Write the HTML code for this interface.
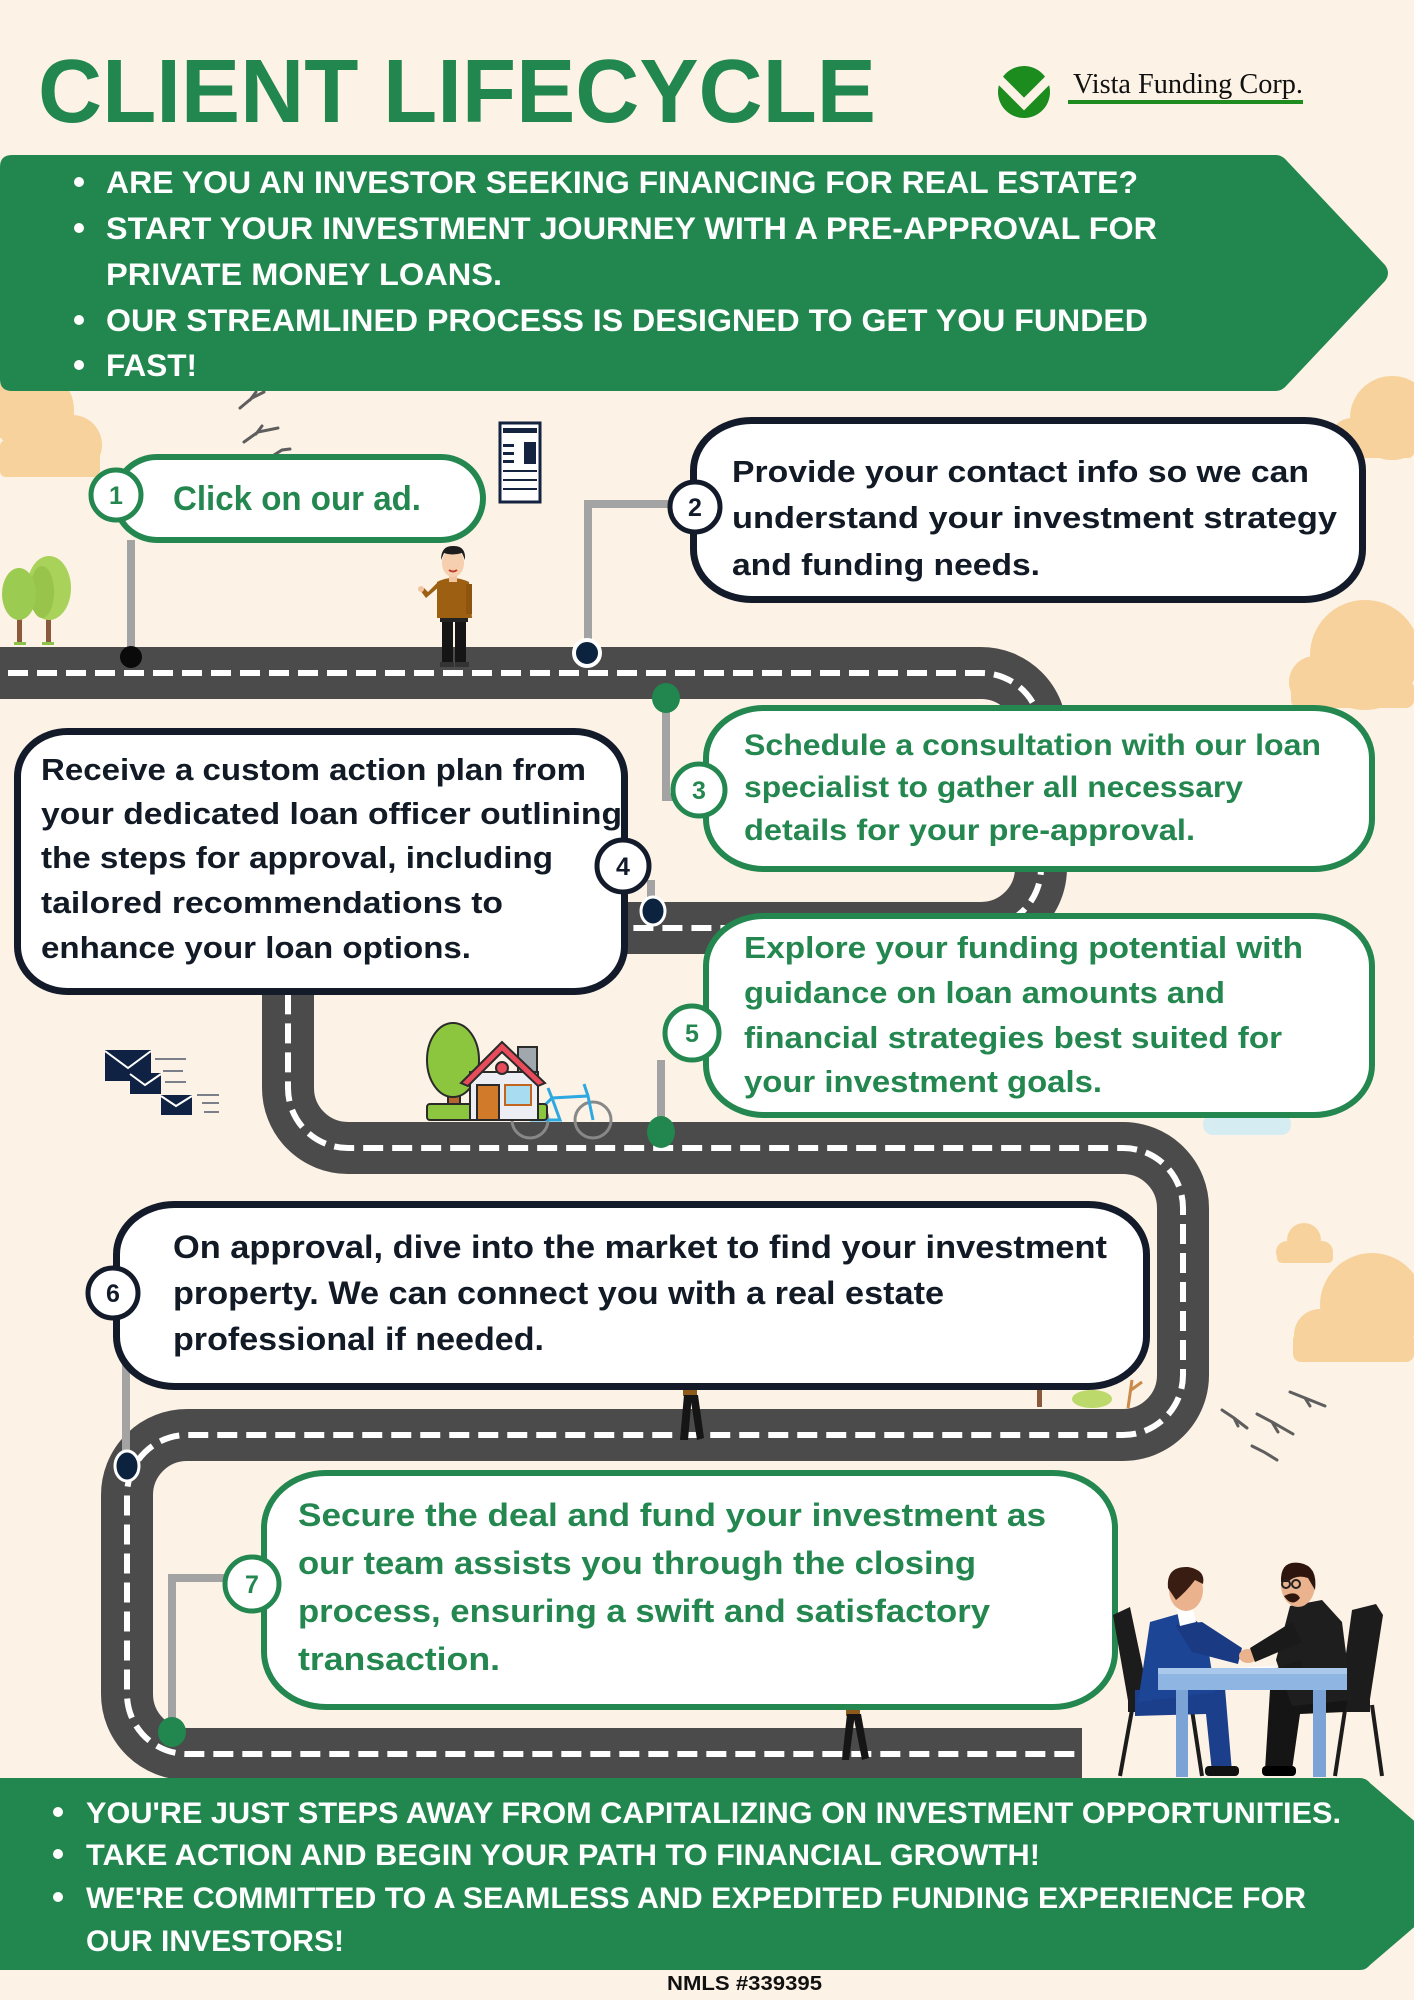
<!DOCTYPE html>
<html><head><meta charset="utf-8">
<style>
html,body{margin:0;padding:0;background:#fcf2e5;}
svg{display:block;}
text{font-family:"Liberation Sans",Arial,sans-serif;font-weight:bold;}
.serif{font-family:"Liberation Serif","Times New Roman",serif;font-weight:normal;}
</style></head><body>
<svg width="1414" height="2000" viewBox="0 0 1414 2000" xmlns="http://www.w3.org/2000/svg">
<rect width="1414" height="2000" fill="#fcf2e5"/>

<!-- clouds -->
<g fill="#f8d29c">
  <circle cx="32" cy="410" r="42"/><circle cx="72" cy="445" r="30"/><rect x="0" y="440" width="100" height="37" rx="6"/>
  <circle cx="1392" cy="418" r="42"/><circle cx="1352" cy="440" r="22"/><rect x="1335" y="436" width="79" height="22" rx="6"/>
  <circle cx="1365" cy="655" r="55"/><circle cx="1315" cy="682" r="26"/><rect x="1291" y="680" width="123" height="28" rx="8"/>
  <circle cx="1304" cy="1240" r="17"/><circle cx="1287" cy="1252" r="11"/><circle cx="1322" cy="1252" r="11"/><rect x="1277" y="1250" width="56" height="13" rx="5"/>
  <circle cx="1372" cy="1305" r="52"/><circle cx="1320" cy="1335" r="26"/><rect x="1293" y="1332" width="121" height="30" rx="8"/>
</g>
<rect x="1203" y="1114" width="88" height="21" rx="10" fill="#d6ecf3"/>

<!-- title -->
<text x="38" y="122" font-size="90" fill="#21874f" textLength="838" lengthAdjust="spacingAndGlyphs">CLIENT LIFECYCLE</text>

<!-- logo -->
<circle cx="1024" cy="92" r="26" fill="#1b8c1d"/>
<polyline points="996,76 1024,104 1052,76" fill="none" stroke="#fcf2e5" stroke-width="9"/>
<text class="serif" x="1073" y="93" font-size="28" fill="#111" textLength="230" lengthAdjust="spacingAndGlyphs">Vista Funding Corp.</text>
<rect x="1068" y="100" width="235" height="4" fill="#1e8c1e"/>

<!-- top banner -->
<path d="M12 155 H1276 Q1282 155 1287 161 L1385 265 Q1391 273 1385 281 L1287 385 Q1282 391 1276 391 H12 Q0 391 0 379 V167 Q0 155 12 155 Z" fill="#21874f"/>
<g fill="#fff">
  <circle cx="79" cy="182" r="5"/><circle cx="79" cy="228" r="5"/><circle cx="79" cy="320" r="5"/><circle cx="79" cy="365" r="5"/>
</g>
<g fill="#fff" font-size="31.5">
  <text x="106" y="193" textLength="1032" lengthAdjust="spacingAndGlyphs">ARE YOU AN INVESTOR SEEKING FINANCING FOR REAL ESTATE?</text>
  <text x="106" y="239" textLength="1051" lengthAdjust="spacingAndGlyphs">START YOUR INVESTMENT JOURNEY WITH A PRE-APPROVAL FOR</text>
  <text x="106" y="285" textLength="396" lengthAdjust="spacingAndGlyphs">PRIVATE MONEY LOANS.</text>
  <text x="106" y="331" textLength="1042" lengthAdjust="spacingAndGlyphs">OUR STREAMLINED PROCESS IS DESIGNED TO GET YOU FUNDED</text>
  <text x="106" y="376" textLength="91" lengthAdjust="spacingAndGlyphs">FAST!</text>
</g>

<!-- birds -->
<g fill="none" stroke="#5e5e5e" stroke-width="3" stroke-linecap="round">
  <path d="M240 408 L252 398 L264 392 M250 400 L256 392"/>
  <path d="M244 442 L258 432 L278 428 M256 434 L262 426"/>
  <path d="M274 455 L282 450 L290 449"/>
  <path d="M1222 1410 L1234 1418 L1247 1428 M1234 1418 L1238 1426"/>
  <path d="M1257 1414 L1272 1422 L1293 1434 M1272 1422 L1278 1432"/>
  <path d="M1290 1392 L1305 1398 L1325 1406 M1305 1398 L1310 1406"/>
  <path d="M1252 1446 L1264 1452 L1277 1460"/>
</g>

<!-- trees left -->
<rect x="17" y="612" width="5" height="32" fill="#8b5a3c"/>
<rect x="46" y="606" width="5" height="38" fill="#8b5a3c"/>
<ellipse cx="49" cy="588" rx="22" ry="32" fill="#a9d25a"/>
<ellipse cx="42" cy="592" rx="12" ry="26" fill="#98c44c"/>
<ellipse cx="19" cy="594" rx="17" ry="26" fill="#9ccb52"/>
<rect x="14" y="642" width="12" height="3" fill="#8bc34a"/><rect x="42" y="642" width="12" height="3" fill="#8bc34a"/>

<!-- newspaper -->
<rect x="500" y="423" width="40" height="79" fill="#fff" stroke="#142340" stroke-width="3"/>
<g fill="#142340">
  <rect x="503" y="428" width="34" height="5"/>
  <rect x="503" y="444" width="11" height="3"/><rect x="503" y="452" width="11" height="3"/><rect x="503" y="460" width="11" height="3"/>
  <rect x="524" y="442" width="12" height="22"/>
  <rect x="503" y="470" width="34" height="2"/><rect x="503" y="479" width="34" height="2"/><rect x="503" y="488" width="34" height="2"/>
</g>

<!-- road -->
<path d="M0 673 H981 A60 60 0 0 1 1041 733 V868 A60 60 0 0 1 981 928 H348 A60 60 0 0 0 288 988 V1088 A60 60 0 0 0 348 1148 H1123 A60 60 0 0 1 1183 1208 V1375 A60 60 0 0 1 1123 1435 H187 A60 60 0 0 0 127 1495 V1694 A60 60 0 0 0 187 1754 H1082" fill="none" stroke="#4b4b4b" stroke-width="52"/>
<path d="M0 673 H981 A60 60 0 0 1 1041 733 V868 A60 60 0 0 1 981 928 H348 A60 60 0 0 0 288 988 V1088 A60 60 0 0 0 348 1148 H1123 A60 60 0 0 1 1183 1208 V1375 A60 60 0 0 1 1123 1435 H187 A60 60 0 0 0 127 1495 V1694 A60 60 0 0 0 187 1754 H1082" fill="none" stroke="#fff" stroke-width="6" stroke-dasharray="20 9" stroke-dashoffset="-8"/>

<!-- man standing -->
<g>
  <rect x="442" y="618" width="11" height="46" fill="#151515"/>
  <rect x="455" y="618" width="11" height="46" fill="#151515"/>
  <rect x="440" y="662" width="14" height="5" fill="#333"/><rect x="455" y="662" width="14" height="5" fill="#333"/>
  <rect x="440" y="616" width="28" height="6" fill="#222"/>
  <path d="M437 582 Q452 574 469 582 L472 618 L437 618 Z" fill="#9d5f12"/>
  <path d="M440 586 L426 598 L420 590 L424 588 L428 592 L438 582 Z" fill="#9d5f12"/>
  <circle cx="421" cy="589" r="3" fill="#f2c4a0"/>
  <rect x="466" y="584" width="6" height="30" fill="#8d5410"/>
  <rect x="449" y="574" width="8" height="8" fill="#f2c4a0"/>
  <ellipse cx="453" cy="563" rx="11" ry="14" fill="#f5cfae"/>
  <path d="M441 560 Q441 545 454 546 Q466 546 465 560 L462 553 Q452 556 444 553 Z" fill="#1d1d1d"/>
  <path d="M449 570 Q453 573 457 570" stroke="#c0392b" stroke-width="2" fill="none"/>
</g>

<!-- envelopes -->
<g>
  <rect x="105" y="1050" width="46" height="31" fill="#0f2244"/>
  <polyline points="105,1051 128,1068 151,1051" fill="none" stroke="#fff" stroke-width="2"/>
  <rect x="130" y="1073" width="31" height="21" fill="#0f2244"/>
  <polyline points="130,1074 145,1085 161,1074" fill="none" stroke="#fff" stroke-width="2"/>
  <rect x="161" y="1095" width="31" height="20" fill="#0f2244"/>
  <polyline points="161,1096 176,1106 192,1096" fill="none" stroke="#fff" stroke-width="2"/>
  <g stroke="#7a7f8a" stroke-width="2">
    <line x1="155" y1="1059" x2="186" y2="1059"/><line x1="163" y1="1071" x2="183" y2="1071"/><line x1="165" y1="1082" x2="186" y2="1082"/>
    <line x1="197" y1="1095" x2="219" y2="1095"/><line x1="202" y1="1103" x2="219" y2="1103"/><line x1="204" y1="1112" x2="219" y2="1112"/>
  </g>
</g>

<!-- house with tree and bike -->
<g stroke="#2a2a2a" stroke-width="2">
  <circle cx="530" cy="1120" r="18" fill="none" stroke="#888" stroke-width="3"/>
  <circle cx="593" cy="1120" r="18" fill="none" stroke="#888" stroke-width="3"/>
  <path d="M530 1120 L552 1098 L588 1096 L593 1120 M552 1098 L560 1120 L530 1120 M588 1096 L584 1084 M552 1098 L548 1088" fill="none" stroke="#2ea8e0" stroke-width="3"/>
  <rect x="448" y="1090" width="12" height="20" fill="#b5652d"/>
  <ellipse cx="453" cy="1060" rx="26" ry="37" fill="#8cc63f"/>
  <rect x="427" y="1104" width="120" height="16" rx="3" fill="#8cc63f"/>
  <rect x="518" y="1047" width="19" height="25" fill="#a0a8ae"/>
  <rect x="470" y="1072" width="68" height="48" fill="#eceef4"/>
  <polygon points="461,1083 502,1042 545,1083 538,1086 502,1052 468,1086" fill="#e84b5a"/>
  <rect x="477" y="1085" width="22" height="35" fill="#d07a2a"/>
  <rect x="505" y="1085" width="26" height="20" fill="#a8dcf0" stroke="#c2651f"/>
  <circle cx="502" cy="1068" r="6" fill="#e84b5a"/>
</g>

<!-- walking legs -->
<g fill="#151515">
  <rect x="683" y="1388" width="14" height="8" fill="#8d5a1c"/>
  <polygon points="684,1395 692,1395 688,1440 680,1440"/>
  <polygon points="690,1395 698,1395 704,1438 697,1440"/>
  <rect x="846" y="1708" width="14" height="8" fill="#8d5a1c"/>
  <polygon points="847,1714 855,1714 849,1760 842,1760"/>
  <polygon points="853,1714 861,1714 869,1758 862,1760"/>
</g>

<!-- small plants near box 6 -->
<rect x="1037" y="1385" width="5" height="22" fill="#8b5a3c"/>
<ellipse cx="1092" cy="1399" rx="20" ry="9" fill="#bcd96c"/>
<path d="M1128 1408 L1132 1380 M1131 1390 L1142 1382" stroke="#c98a4a" stroke-width="3" fill="none"/>

<!-- connectors -->
<g stroke="#a3a3a3" stroke-width="8" fill="none">
  <line x1="131" y1="540" x2="131" y2="652"/>
  <polyline points="670,504 588,504 588,645"/>
  <polyline points="666,705 666,797 675,797"/>
  <line x1="651" y1="880" x2="651" y2="905"/>
  <line x1="661" y1="1060" x2="661" y2="1122"/>
  <line x1="126" y1="1330" x2="126" y2="1455"/>
  <polyline points="226,1578 172,1578 172,1722"/>
</g>
<g>
  <circle cx="131" cy="657" r="11" fill="#0a0a0a"/>
  <circle cx="587" cy="653" r="13" fill="#0c2340" stroke="#fff" stroke-width="4"/>
  <ellipse cx="666" cy="698" rx="14" ry="15" fill="#21874f"/>
  <ellipse cx="653" cy="911" rx="12" ry="14" fill="#0c2340" stroke="#fff" stroke-width="3"/>
  <ellipse cx="661" cy="1132" rx="14" ry="16" fill="#21874f"/>
  <ellipse cx="127" cy="1466" rx="12" ry="15" fill="#0c2340" stroke="#fff" stroke-width="3"/>
  <ellipse cx="172" cy="1732" rx="14" ry="15" fill="#21874f"/>
</g>

<!-- boxes -->
<g fill="#fff" stroke-width="6">
  <rect x="115" y="457" width="368" height="83" rx="42" ry="42" stroke="#23874f"/>
  <rect x="693.5" y="420.5" width="669" height="179" rx="58" ry="50" stroke="#131b2b" stroke-width="7"/>
  <rect x="706" y="708" width="666" height="161" rx="58" ry="50" stroke="#23874f"/>
  <rect x="17.5" y="731.5" width="607" height="260" rx="50" ry="45" stroke="#131b2b" stroke-width="7"/>
  <rect x="706" y="916" width="666" height="199" rx="58" ry="50" stroke="#23874f"/>
  <rect x="116.5" y="1204.5" width="1030" height="182" rx="58" ry="50" stroke="#131b2b" stroke-width="7"/>
  <rect x="264" y="1473" width="851" height="234" rx="62" ry="55" stroke="#23874f"/>
</g>

<!-- number circles -->
<g fill="#fff" stroke-width="5">
  <circle cx="116" cy="495" r="25" stroke="#23874f"/>
  <circle cx="695" cy="507" r="25" stroke="#131b2b"/>
  <circle cx="699" cy="790" r="26" stroke="#23874f"/>
  <circle cx="623" cy="866" r="26" stroke="#131b2b"/>
  <circle cx="692" cy="1033" r="27" stroke="#23874f"/>
  <circle cx="113" cy="1293" r="25" stroke="#131b2b"/>
  <circle cx="252" cy="1584" r="27" stroke="#23874f"/>
</g>
<g font-size="25" text-anchor="middle">
  <text x="116" y="504" fill="#23874f">1</text>
  <text x="695" y="516" fill="#131b2b">2</text>
  <text x="699" y="799" fill="#23874f">3</text>
  <text x="623" y="875" fill="#131b2b">4</text>
  <text x="692" y="1042" fill="#23874f">5</text>
  <text x="113" y="1302" fill="#131b2b">6</text>
  <text x="252" y="1593" fill="#23874f">7</text>
</g>

<!-- box texts -->
<text x="173" y="510" font-size="34" fill="#23874f" textLength="248" lengthAdjust="spacingAndGlyphs">Click on our ad.</text>

<g font-size="31" fill="#121a26">
  <text x="732" y="482" textLength="577" lengthAdjust="spacingAndGlyphs">Provide your contact info so we can</text>
  <text x="732" y="528" textLength="605" lengthAdjust="spacingAndGlyphs">understand your investment strategy</text>
  <text x="732" y="575" textLength="308" lengthAdjust="spacingAndGlyphs">and funding needs.</text>
</g>
<g font-size="30" fill="#23874f">
  <text x="744" y="755" textLength="577" lengthAdjust="spacingAndGlyphs">Schedule a consultation with our loan</text>
  <text x="744" y="797" textLength="499" lengthAdjust="spacingAndGlyphs">specialist to gather all necessary</text>
  <text x="744" y="840" textLength="451" lengthAdjust="spacingAndGlyphs">details for your pre-approval.</text>
</g>
<g font-size="31" fill="#121a26">
  <text x="41" y="780" textLength="545" lengthAdjust="spacingAndGlyphs">Receive a custom action plan from</text>
  <text x="41" y="824" textLength="581" lengthAdjust="spacingAndGlyphs">your dedicated loan officer outlining</text>
  <text x="41" y="868" textLength="512" lengthAdjust="spacingAndGlyphs">the steps for approval, including</text>
  <text x="41" y="913" textLength="462" lengthAdjust="spacingAndGlyphs">tailored recommendations to</text>
  <text x="41" y="958" textLength="430" lengthAdjust="spacingAndGlyphs">enhance your loan options.</text>
</g>
<g font-size="31" fill="#23874f">
  <text x="744" y="958" textLength="559" lengthAdjust="spacingAndGlyphs">Explore your funding potential with</text>
  <text x="744" y="1003" textLength="481" lengthAdjust="spacingAndGlyphs">guidance on loan amounts and</text>
  <text x="744" y="1048" textLength="538" lengthAdjust="spacingAndGlyphs">financial strategies best suited for</text>
  <text x="744" y="1092" textLength="358" lengthAdjust="spacingAndGlyphs">your investment goals.</text>
</g>
<g font-size="32" fill="#121a26">
  <text x="173" y="1258" textLength="934" lengthAdjust="spacingAndGlyphs">On approval, dive into the market to find your investment</text>
  <text x="173" y="1304" textLength="771" lengthAdjust="spacingAndGlyphs">property. We can connect you with a real estate</text>
  <text x="173" y="1350" textLength="371" lengthAdjust="spacingAndGlyphs">professional if needed.</text>
</g>
<g font-size="32" fill="#23874f">
  <text x="298" y="1526" textLength="748" lengthAdjust="spacingAndGlyphs">Secure the deal and fund your investment as</text>
  <text x="298" y="1574" textLength="678" lengthAdjust="spacingAndGlyphs">our team assists you through the closing</text>
  <text x="298" y="1622" textLength="692" lengthAdjust="spacingAndGlyphs">process, ensuring a swift and satisfactory</text>
  <text x="298" y="1670" textLength="202" lengthAdjust="spacingAndGlyphs">transaction.</text>
</g>

<!-- business people -->
<g>
  <!-- chairs -->
  <polygon points="1113,1615 1130,1607 1150,1702 1130,1712" fill="#1c1c1c"/>
  <rect x="1128" y="1700" width="72" height="12" fill="#1c1c1c"/>
  <g stroke="#1c1c1c" stroke-width="4">
    <line x1="1132" y1="1710" x2="1120" y2="1776"/><line x1="1192" y1="1710" x2="1202" y2="1776"/>
    <line x1="1345" y1="1710" x2="1335" y2="1776"/><line x1="1372" y1="1705" x2="1382" y2="1776"/>
  </g>
  <polygon points="1352,1610 1376,1604 1383,1615 1368,1712 1338,1712" fill="#1c1c1c"/>
  <rect x="1300" y="1700" width="70" height="12" fill="#1c1c1c"/>
  <!-- left man -->
  <polygon points="1135,1690 1225,1688 1232,1772 1212,1772 1206,1714 1135,1716" fill="#1c3f8c"/>
  <rect x="1205" y="1766" width="34" height="10" rx="4" fill="#111"/>
  <polygon points="1150,1622 1185,1612 1205,1628 1215,1692 1138,1702" fill="#1d4596"/>
  <polygon points="1175,1625 1202,1622 1242,1648 1238,1664 1192,1652" fill="#1a3b84"/>
  <ellipse cx="1248" cy="1656" rx="9" ry="7" fill="#eab38e"/>
  <polygon points="1176,1606 1192,1606 1196,1622 1180,1626" fill="#fff"/>
  <ellipse cx="1186" cy="1590" rx="17" ry="21" fill="#eab38e"/>
  <path d="M1168 1588 Q1166 1566 1188 1567 Q1206 1570 1203 1584 L1195 1580 Q1186 1592 1176 1600 Z" fill="#3a1d12"/>
  <!-- right man -->
  <polygon points="1270,1690 1350,1690 1345,1712 1300,1714 1292,1770 1265,1770" fill="#151515"/>
  <rect x="1262" y="1766" width="34" height="10" rx="4" fill="#000"/>
  <polygon points="1290,1606 1322,1600 1342,1622 1352,1700 1292,1706 1276,1660" fill="#1e1e1e"/>
  <polygon points="1292,1622 1250,1648 1255,1662 1302,1642" fill="#1a1a1a"/>
  <polygon points="1300,1660 1266,1672 1270,1680 1306,1674" fill="#1a1a1a"/>
  <polygon points="1230,1668 1275,1666 1272,1672 1225,1674" fill="#fff"/>
  <ellipse cx="1298" cy="1585" rx="17" ry="22" fill="#eab38e"/>
  <path d="M1281 1582 Q1280 1560 1300 1563 Q1318 1566 1315 1590 L1308 1578 Q1296 1574 1288 1582 Z" fill="#2e160e"/>
  <path d="M1284 1596 Q1292 1608 1300 1598 Q1296 1590 1284 1596 Z" fill="#2e160e"/>
  <g fill="none" stroke="#222" stroke-width="2"><circle cx="1286" cy="1584" r="4"/><circle cx="1296" cy="1584" r="4"/></g>
  <!-- table -->
  <rect x="1158" y="1668" width="189" height="22" fill="#8fb5e2"/>
  <rect x="1158" y="1668" width="189" height="6" fill="#a9c8ec"/>
  <rect x="1176" y="1690" width="12" height="87" fill="#7ba3d6"/>
  <rect x="1313" y="1690" width="13" height="87" fill="#7ba3d6"/>
</g>

<!-- bottom banner -->
<path d="M0 1778 H1360 Q1366 1778 1370 1783 L1476 1874 L1370 1965 Q1366 1970 1360 1970 H0 Z" fill="#21874f"/>
<g fill="#fff">
  <circle cx="58" cy="1812" r="5"/><circle cx="58" cy="1854" r="5"/><circle cx="58" cy="1897" r="5"/>
</g>
<g fill="#fff" font-size="30">
  <text x="86" y="1823" textLength="1255" lengthAdjust="spacingAndGlyphs">YOU'RE JUST STEPS AWAY FROM CAPITALIZING ON INVESTMENT OPPORTUNITIES.</text>
  <text x="86" y="1865" textLength="954" lengthAdjust="spacingAndGlyphs">TAKE ACTION AND BEGIN YOUR PATH TO FINANCIAL GROWTH!</text>
  <text x="86" y="1908" textLength="1220" lengthAdjust="spacingAndGlyphs">WE'RE COMMITTED TO A SEAMLESS AND EXPEDITED FUNDING EXPERIENCE FOR</text>
  <text x="86" y="1951" textLength="258" lengthAdjust="spacingAndGlyphs">OUR INVESTORS!</text>
</g>
<text x="667" y="1990" font-size="20" fill="#111" textLength="155" lengthAdjust="spacingAndGlyphs">NMLS #339395</text>
</svg>
</body></html>
